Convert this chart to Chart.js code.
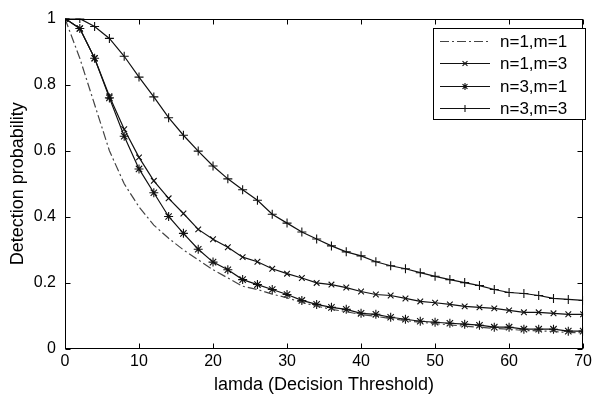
<!DOCTYPE html>
<html>
<head>
<meta charset="utf-8">
<script src="https://cdn.jsdelivr.net/npm/chart.js@4.4.1/dist/chart.umd.min.js"></script>
<style>
  html, body { margin: 0; padding: 0; background: #fff; }
  #wrap { width: 595px; height: 396px; position: relative; }
</style>
</head>
<body>
<div id="wrap"><canvas id="c" width="595" height="396"></canvas></div>
<script>
// Decision threshold (x values)
const lambdaValues = [0, 2, 4, 6, 8, 10, 12, 14, 16, 18, 20, 22, 24, 26, 28, 30, 32, 34,
  36, 38, 40, 42, 44, 46, 48, 50, 52, 54, 56, 58, 60, 62, 64, 66, 68, 70];

// Detection probability series
const pdN1M1 = [1, 0.88, 0.74, 0.60, 0.50, 0.43, 0.375, 0.335, 0.30, 0.27, 0.24, 0.215, 0.19,
  0.18, 0.166, 0.155, 0.141, 0.13, 0.12, 0.113, 0.104, 0.099, 0.092, 0.086, 0.081, 0.077,
  0.073, 0.069, 0.066, 0.062, 0.06, 0.056, 0.055, 0.053, 0.05, 0.049];
const pdN1M3 = [1, 0.97, 0.88, 0.765, 0.665, 0.58, 0.509, 0.456, 0.41, 0.362, 0.332, 0.308,
  0.278, 0.264, 0.243, 0.228, 0.215, 0.2, 0.195, 0.186, 0.174, 0.165, 0.162, 0.153, 0.144,
  0.14, 0.135, 0.129, 0.126, 0.123, 0.117, 0.111, 0.111, 0.108, 0.105, 0.105];
const pdN3M1 = [1, 0.97, 0.88, 0.76, 0.644, 0.545, 0.473, 0.401, 0.35, 0.302, 0.263, 0.24,
  0.21, 0.195, 0.18, 0.165, 0.147, 0.135, 0.126, 0.12, 0.108, 0.105, 0.096, 0.09, 0.084,
  0.081, 0.078, 0.075, 0.072, 0.066, 0.066, 0.06, 0.06, 0.06, 0.054, 0.054];
const pdN3M3 = [1, 1.0, 0.976, 0.94, 0.886, 0.823, 0.763, 0.70, 0.647, 0.599, 0.554, 0.515,
  0.482, 0.45, 0.408, 0.381, 0.354, 0.333, 0.312, 0.294, 0.282, 0.264, 0.252, 0.243, 0.231,
  0.22, 0.21, 0.201, 0.192, 0.18, 0.171, 0.168, 0.162, 0.153, 0.15, 0.147];

const seriesLabels = ['n=1,m=1', 'n=1,m=3', 'n=3,m=1', 'n=3,m=3'];
const xTickValues = [0, 10, 20, 30, 40, 50, 60, 70];
const yTickValues = [0, 0.2, 0.4, 0.6, 0.8, 1];
const xTitle = 'lamda (Decision Threshold)';
const yTitle = 'Detection probability';

const FONT = '"Liberation Sans", Arial, sans-serif';

function pts(arr) { return lambdaValues.map((x, i) => ({ x: x, y: arr[i] })); }

const styles = [
  { color: '#444', dash: [9, 3, 2, 3], point: false, radius: 0 },
  { color: '#111', dash: [], point: 'crossRot', radius: 4 },
  { color: '#111', dash: [], point: 'star', radius: 4.5 },
  { color: '#111', dash: [], point: 'cross', radius: 4.5 }
];
const seriesData = [pdN1M1, pdN1M3, pdN3M1, pdN3M3];

const datasets = seriesData.map((arr, i) => ({
  label: seriesLabels[i],
  data: pts(arr),
  borderColor: styles[i].color,
  backgroundColor: styles[i].color,
  borderWidth: 1.2,
  borderDash: styles[i].dash,
  pointStyle: styles[i].point,
  pointRadius: styles[i].radius,
  pointBorderWidth: 1.1,
  pointBorderColor: styles[i].color,
  tension: 0,
  fill: false
}));

const frameTicks = {
  id: 'frameTicks',
  afterDraw(chart) {
    const ctx = chart.ctx;
    const a = chart.chartArea;
    const xs = chart.scales.x, ys = chart.scales.y;
    ctx.save();
    ctx.strokeStyle = '#000';
    ctx.lineWidth = 1;
    ctx.setLineDash([]);
    const L = Math.round(a.left) + 0.5, R = Math.round(a.right) - 0.5;
    const T = Math.round(a.top) + 0.5, B = Math.round(a.bottom) - 0.5;
    ctx.strokeRect(L, T, R - L, B - T);
    const tl = 5;
    ctx.beginPath();
    xTickValues.forEach(v => {
      const px = Math.round(xs.getPixelForValue(v)) + 0.5;
      ctx.moveTo(px, B); ctx.lineTo(px, B - tl);
      ctx.moveTo(px, T); ctx.lineTo(px, T + tl);
    });
    yTickValues.forEach(v => {
      const py = Math.round(ys.getPixelForValue(v)) + 0.5;
      ctx.moveTo(L, py); ctx.lineTo(L + tl, py);
      ctx.moveTo(R, py); ctx.lineTo(R - tl, py);
    });
    ctx.stroke();

    // Legend box
    const bx = 433.5, by = 28.5, bw = 152, bh = 91;
    ctx.fillStyle = '#fff';
    ctx.fillRect(bx, by, bw, bh);
    ctx.strokeRect(bx, by, bw, bh);
    const rows = [41, 63, 86, 108];
    ctx.font = '17px ' + FONT;
    ctx.textBaseline = 'middle';
    ctx.textAlign = 'left';
    rows.forEach((ry, i) => {
      const st = styles[i];
      ctx.strokeStyle = st.color;
      ctx.lineWidth = 1.1;
      ctx.setLineDash(st.dash);
      ctx.beginPath();
      ctx.moveTo(440, ry + 0.5); ctx.lineTo(490, ry + 0.5);
      ctx.stroke();
      ctx.setLineDash([]);
      if (st.point) {
        Chart.helpers.drawPoint(ctx, { pointStyle: st.point, radius: 3.5, borderWidth: 1 }, 465, ry + 0.5);
      }
      ctx.fillStyle = '#000';
      ctx.fillText(seriesLabels[i], 500, ry + 1);
    });
    ctx.restore();
  }
};

new Chart(document.getElementById('c'), {
  type: 'line',
  data: { datasets: datasets },
  options: {
    responsive: false,
    animation: false,
    devicePixelRatio: 1,
    layout: { padding: { top: 15, right: 9, left: 0, bottom: 0 } },
    plugins: { legend: { display: false }, tooltip: { enabled: false } },
    scales: {
      x: {
        type: 'linear', min: 0, max: 70,
        afterBuildTicks(s) { s.ticks = xTickValues.map(v => ({ value: v })); },
        afterFit(s) { s.height = 47; },
        grid: { display: false, drawTicks: false },
        border: { display: false },
        ticks: { color: '#000', font: { family: FONT, size: 16 }, padding: 3, maxRotation: 0 },
        title: { display: true, text: xTitle, color: '#000', font: { family: FONT, size: 18 }, padding: { top: 0, bottom: 0 } }
      },
      y: {
        type: 'linear', min: 0, max: 1,
        afterBuildTicks(s) { s.ticks = yTickValues.map(v => ({ value: v })); },
        afterFit(s) { s.width = 65; },
        grid: { display: false, drawTicks: false },
        border: { display: false },
        ticks: { color: '#000', font: { family: FONT, size: 16 }, padding: 9,
          callback: v => String(Math.round(v * 10) / 10) },
        title: { display: true, text: yTitle, color: '#000', font: { family: FONT, size: 18 }, padding: { top: 7, bottom: 0 } }
      }
    }
  },
  plugins: [frameTicks]
});
</script>
</body>
</html>
